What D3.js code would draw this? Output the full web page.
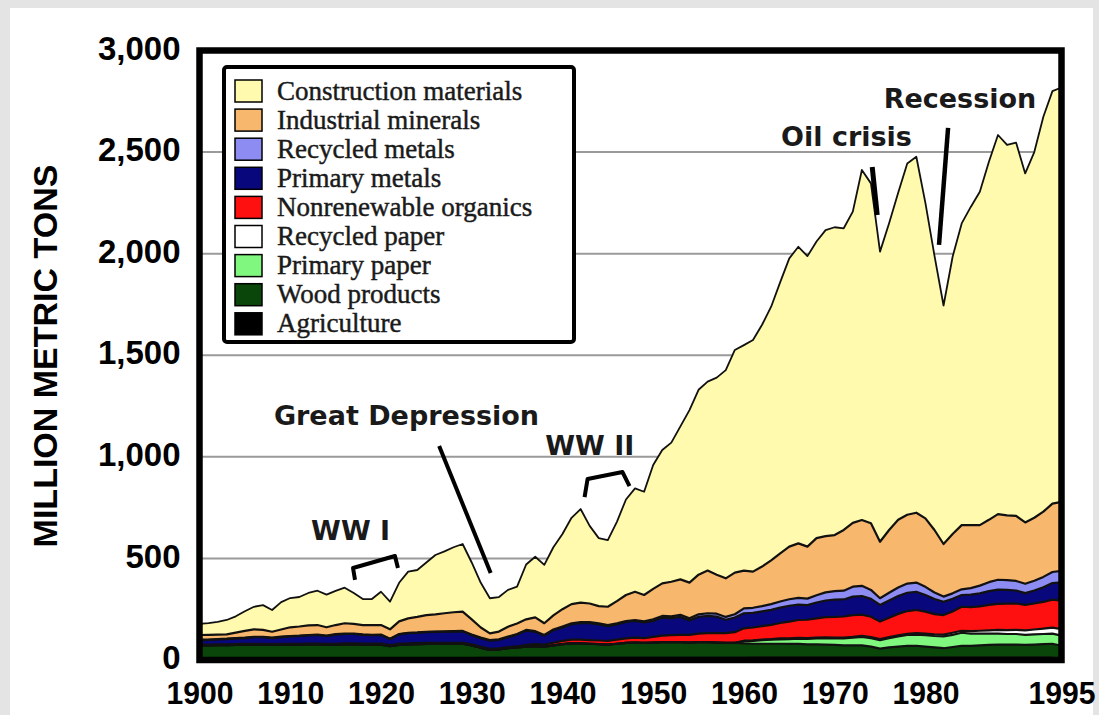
<!DOCTYPE html>
<html><head><meta charset="utf-8">
<script src="https://cdn.jsdelivr.net/npm/d3@7"></script>
<style>body{margin:0;background:#e4e4e4;} svg{display:block}</style>
</head><body>
<svg id="c" width="1099" height="715"></svg>
<script>
// ---------- DATA (million metric tons, 1900-1995) ----------
const years = d3.range(1900, 1996);
const seriesNames = ["Agriculture","Wood products","Primary paper","Recycled paper","Nonrenewable organics","Primary metals","Recycled metals","Industrial minerals","Construction materials"];
const colors = ["#000000","#0a450a","#80f880","#ffffff","#ff1010","#08087c","#8c8cf2","#f7b76c","#fffaad"];
const yTicks = [0,500,1000,1500,2000,2500,3000];
const xTicks = [1900,1910,1920,1930,1940,1950,1960,1970,1980,1995];

const agriculture = [8,8,8,8,8,8,8,8,8,8, 8,8,8,8,8,8,8,8,8,8, 8,8,8,8,8,8,8,8,8,8,
  8,10,10,10,10,10,10,10,10,10, 10,10,10,10,10,10,10,10,10,10, 10,10,10,10,10,10,10,10,10,10,
  10,12,12,12,12,12,12,12,12,12, 12,12,12,12,12,12,12,12,12,12, 12,12,12,12,12,12,12,12,12,12, 12,12,12,12,12];
const wood = [64,64,65,65,66,67,68,68,66,67, 68,68,69,69,68,68,69,69,68,68,
  68,60,66,69,70,71,71,72,72,72, 64,50,40,42,48,52,56,58,56,62,
  68,72,72,70,68,66,70,74,76,74, 76,78,78,78,76,78,78,76,74,75,
  72,68,68,68,68,67,67,65,65,64, 62,60,60,60,54,44,50,54,58,58,
  54,50,46,52,58,58,60,62,64,64, 64,62,64,66,68,70];
const primaryPaper = [0,0,0,0,0,0,0,0,0,0, 0,0,0,0,0,0,0,0,0,0, 0,0,0,0,0,0,0,0,0,0,
  0,0,0,0,0,0,0,0,0,0, 0,0,0,0,0,0,0,0,0,0, 0,0,0,0,0,0,0,0,0,0,
  10,14,18,20,22,24,26,27,29,31, 32,34,38,42,42,42,46,50,53,55,
  56,56,58,60,64,60,58,56,54,52, 52,50,50,50,50,50];
const recycledPaper = [0,0,0,0,0,0,0,0,0,0, 0,0,0,0,0,0,0,0,0,0, 0,0,0,0,0,0,0,0,0,0,
  0,0,0,0,0,0,0,0,0,0, 0,0,0,0,0,0,0,0,0,0, 0,0,0,0,0,0,0,0,0,0,
  3,3,3,3,4,4,4,4,4,4, 4,4,4,5,5,5,5,6,6,7,
  8,8,9,10,10,12,14,16,18,19, 20,22,24,26,29,32];
const nonrenewable = [4,4,4,4,4,4,4,4,4,4, 4,4,4,4,4,4,5,5,5,5,
  5,5,5,5,5,5,5,5,5,5, 5,5,5,5,5,5,8,10,10,13,
  16,18,18,18,18,18,20,22,24,24, 28,32,34,36,38,42,44,46,48,52,
  61,63,66,70,76,82,88,90,95,100, 102,104,107,104,100,86,95,105,112,114,
  108,100,96,105,118,118,120,125,128,130, 130,125,128,132,138,140];
const primaryMetals = [22,23,24,26,28,29,32,32,30,34, 36,38,40,42,38,45,46,46,43,41,
  42,30,47,50,51,53,54,54,55,56, 45,42,40,42,49,58,71,61,44,62,
  66,76,81,83,79,73,75,81,82,77, 78,89,84,88,71,83,85,82,66,72,
  74,72,72,74,76,78,76,72,78,82, 85,84,91,92,88,82,85,88,90,90,
  82,74,66,62,58,62,64,68,70,68, 64,58,64,72,82,90];
const recycledMetals = [2,2,2,2,2,2,2,2,2,2, 2,2,2,2,2,2,2,2,2,2, 2,2,2,2,2,2,2,2,2,2,
  3,3,3,3,3,3,3,3,3,3, 5,5,5,5,5,5,5,5,5,5, 8,8,9,10,10,12,13,14,14,16,
  24,25,26,28,30,32,33,32,36,40, 42,43,49,50,44,33,38,42,45,45,
  40,32,25,27,28,32,38,44,49,48, 47,46,48,51,54,57];
const industrialMinerals = [23,23,22,21,27,33,37,34,29,35, 43,45,47,47,41,45,51,48,46,48,
  47,46,62,71,76,82,85,89,93,95, 75,50,33,38,49,52,52,68,58,70,
  85,94,96,92,85,90,110,128,139,130, 150,160,170,175,176,195,210,192,190,205,
  186,178,195,215,237,259,268,256,281,277, 276,299,314,324,328,278,309,333,339,344,
  337,308,259,292,316,310,298,307,323,319, 320,302,310,321,337,339];
const construction = [55,58,63,71,80,97,111,122,107,135, 144,145,160,169,161,168,175,152,128,128,
  164,136,190,230,231,259,292,305,320,333, 280,220,173,170,181,181,270,298,287,335,
  370,425,461,382,335,328,390,470,509,508, 610,657,685,753,849,910,930,970,1025,1096,
  1110,1140,1190,1249,1335,1419,1460,1430,1460,1506, 1515,1485,1532,1723,1673,1428,1510,1610,1729,1752,
  1553,1350,1174,1365,1485,1566,1641,1762,1866,1823, 1837,1718,1800,1944,2030,2040];

// annotations (in data coordinates: year, value)
const annoTexts = [
  {t:"WW I", year:1912.3, v:591},
  {t:"Great Depression", year:1908.2, v:1157},
  {t:"WW II", year:1938.1, v:1009},
  {t:"Oil crisis", year:1964.1, v:2530},
  {t:"Recession", year:1975.4, v:2717}
];
const annoLines = [
  {w:4, pts:[[1917.14,394],[1916.92,453],[1921.54,512],[1921.87,453]]},
  {w:4, pts:[[1926.41,1053],[1932.09,428]]},
  {w:4, pts:[[1942.44,802],[1942.77,891],[1946.62,925],[1947.39,856]]},
  {w:5, pts:[[1974.14,2427],[1974.69,2190]]},
  {w:4.5, pts:[[1982.5,2619],[1981.5,2043]]}
];

// ---------- BUILD ----------
const seriesArrays = [agriculture, wood, primaryPaper, recycledPaper, nonrenewable, primaryMetals, recycledMetals, industrialMinerals, construction];
const table = years.map((y,i)=>{ const o={year:y}; seriesNames.forEach((k,j)=>o[k]=seriesArrays[j][i]); return o; });
const stacked = d3.stack().keys(seriesNames)(table);

const svg = d3.select("#c");
const L=199.5, R=1061.5, T=50.5, B=660;
const x = d3.scaleLinear().domain([1900,1995]).range([L,R]);
const y = d3.scaleLinear().domain([0,3000]).range([B,T]);

svg.append("rect").attr("x",10).attr("y",8).attr("width",1083).attr("height",707).attr("fill","#fff");

svg.append("defs").append("clipPath").attr("id","pc").append("rect")
  .attr("x",L).attr("y",T).attr("width",R-L).attr("height",B-T);

// gridlines
svg.append("g").selectAll("line").data(yTicks.filter(v=>v>0&&v<3000)).join("line")
  .attr("x1",L).attr("x2",R).attr("y1",d=>y(d)).attr("y2",d=>y(d))
  .attr("stroke","#9a9a9a").attr("stroke-width",2);

const area = d3.area().x(d=>x(d.data.year)).y0(d=>y(d[0])).y1(d=>y(d[1]));
const line = d3.line().x(d=>x(d.data.year)).y(d=>y(d[1]));
const g = svg.append("g").attr("clip-path","url(#pc)");
g.selectAll("path.a").data(stacked).join("path").attr("class","a")
  .attr("d",area).attr("fill",(d,i)=>colors[i]);
g.selectAll("path.l").data(stacked).join("path").attr("class","l")
  .attr("d",line).attr("fill","none").attr("stroke","#111")
  .attr("stroke-width",(d,i)=>i===8?1.8:2.2).attr("stroke-linejoin","round");

// frame
svg.append("rect").attr("x",L).attr("y",T).attr("width",R-L).attr("height",B-T)
  .attr("fill","none").attr("stroke","#000").attr("stroke-width",6.5);

// axes
const ya = svg.append("g").attr("transform",`translate(${L},0)`)
  .call(d3.axisLeft(y).tickValues(yTicks).tickSize(0).tickPadding(19).tickFormat(d3.format(",")));
ya.select(".domain").remove();
ya.selectAll("text").attr("font-family","'Liberation Sans',Arial,sans-serif").attr("font-weight","bold")
  .attr("font-size",33).attr("fill","#000").attr("dy","0.26em");
const xa = svg.append("g").attr("transform",`translate(0,${B})`)
  .call(d3.axisBottom(x).tickValues(xTicks).tickSize(0).tickPadding(21).tickFormat(d3.format("d")));
xa.select(".domain").remove();
xa.selectAll("text").attr("font-family","'Liberation Sans Narrow','Liberation Sans',Arial,sans-serif").attr("font-weight","bold")
  .attr("font-size",32).attr("fill","#000")
  .attr("textLength",67).attr("lengthAdjust","spacingAndGlyphs");

svg.append("text").attr("transform","translate(57,356) rotate(-90)").attr("text-anchor","middle")
  .attr("font-family","'Liberation Sans',Arial,sans-serif").attr("font-weight","bold").attr("font-size",34)
  .text("MILLION METRIC TONS");

// legend
const lg = svg.append("g");
lg.append("rect").attr("x",224).attr("y",67).attr("width",350).attr("height",275).attr("rx",3)
  .attr("fill","#fff").attr("stroke","#000").attr("stroke-width",4);
const legendOrder = seriesNames.slice().reverse();
legendOrder.forEach((k,i)=>{
  const cy = 91 + i*29.1;
  lg.append("rect").attr("x",235).attr("y",cy-11).attr("width",27).attr("height",22)
    .attr("fill",colors[seriesNames.indexOf(k)]).attr("stroke","#000").attr("stroke-width",1.5);
  lg.append("text").attr("x",277).attr("y",cy+8.5).attr("font-family","'Liberation Serif','Times New Roman',serif")
    .attr("font-size",27).attr("fill","#1a1a1a").attr("stroke","#1a1a1a").attr("stroke-width",0.45).text(k);
});

// annotations
const ag = svg.append("g");
annoLines.forEach(a=>{
  ag.append("path").attr("d",d3.line().x(p=>x(p[0])).y(p=>y(p[1]))(a.pts))
    .attr("fill","none").attr("stroke","#000").attr("stroke-width",a.w).attr("stroke-linejoin","round");
});
annoTexts.forEach(a=>{
  ag.append("text").attr("x",x(a.year)).attr("y",y(a.v)).attr("font-family","'DejaVu Sans',Verdana,sans-serif")
    .attr("font-weight","bold").attr("font-size",27).attr("fill","#1a1a1a").text(a.t);
});
</script>
</body></html>
